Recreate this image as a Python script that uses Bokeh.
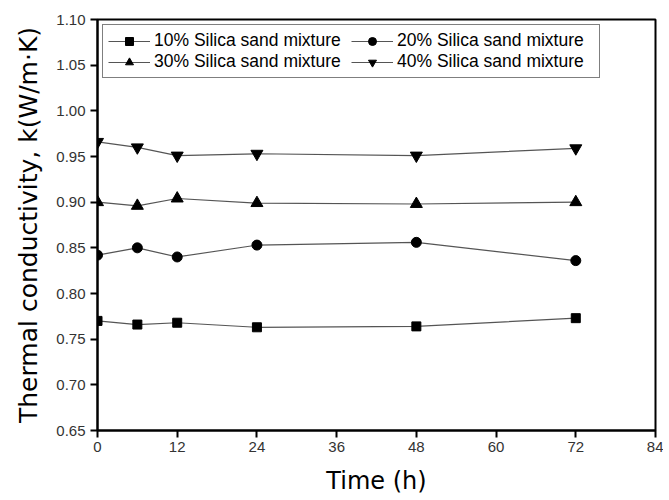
from bokeh.plotting import figure
from bokeh.models import Range1d, FixedTicker, Legend, LegendItem, NumeralTickFormatter
from bokeh.embed import file_html
from bokeh.resources import INLINE

time_h = [0, 6, 12, 24, 48, 72]
k10 = [0.770, 0.766, 0.768, 0.763, 0.764, 0.773]
k20 = [0.842, 0.850, 0.840, 0.853, 0.856, 0.836]
k30 = [0.900, 0.896, 0.904, 0.899, 0.898, 0.900]
k40 = [0.966, 0.960, 0.951, 0.953, 0.951, 0.959]
labels = ["10% Silica sand mixture", "20% Silica sand mixture",
          "30% Silica sand mixture", "40% Silica sand mixture"]
x_ticks = [0, 12, 24, 36, 48, 60, 72, 84]
y_ticks = [0.65, 0.70, 0.75, 0.80, 0.85, 0.90, 0.95, 1.00, 1.05, 1.10]

FONT = "Liberation Sans"
LABEL_FONT = "DejaVu Sans"

p = figure(width=663, height=498, output_backend="svg", toolbar_location=None,
           x_range=Range1d(0, 84), y_range=Range1d(0.65, 1.10),
           min_border_left=97, min_border_right=8, min_border_top=19, min_border_bottom=68)
p.grid.visible = False
p.outline_line_color = "black"
p.outline_line_width = 2
p.background_fill_color = "white"
p.border_fill_color = "white"

for ax in (p.xaxis[0], p.yaxis[0]):
    ax.axis_line_width = 2
    ax.axis_line_color = "black"
    ax.major_tick_line_width = 2
    ax.major_tick_in = 0
    ax.major_tick_out = 7
    ax.minor_tick_line_color = None
    ax.major_label_text_font = FONT
    ax.major_label_text_font_size = "15px"
    ax.major_label_text_color = "#333333"
    ax.axis_label_text_font = LABEL_FONT
    ax.axis_label_text_font_style = "normal"
    ax.axis_label_text_color = "black"

p.xaxis[0].ticker = FixedTicker(ticks=x_ticks)
p.yaxis[0].ticker = FixedTicker(ticks=y_ticks)
p.yaxis[0].formatter = NumeralTickFormatter(format="0.00")
p.xaxis[0].axis_label = "Time (h)"
p.yaxis[0].axis_label = "Thermal conductivity, k(W/m\u00b7K)"
p.xaxis[0].axis_label_text_font_size = "24px"
p.yaxis[0].axis_label_text_font_size = "25px"
p.xaxis[0].major_label_standoff = 4
p.xaxis[0].axis_label_standoff = 12
p.yaxis[0].major_label_standoff = 5
p.yaxis[0].axis_label_standoff = 10

series = [(k10, "square", 9), (k20, "circle", 10), (k30, "triangle", 12), (k40, "inverted_triangle", 12)]
items = []
for (vals, marker, sz), lab in zip(series, labels):
    l = p.line(time_h, vals, line_color="#555555", line_width=1.2)
    s = p.scatter(time_h, vals, marker=marker, size=sz, fill_color="black", line_color="black")
    items.append(LegendItem(label=lab, renderers=[l, s]))

legend = Legend(items=items, location="top_left", orientation="horizontal", nrows=2,
                label_text_font=FONT, label_text_font_size="17.5px", label_text_color="black",
                border_line_color="black", border_line_width=1, background_fill_alpha=1,
                glyph_width=42, glyph_height=20, label_standoff=4, spacing=0, padding=5,
                margin=5, label_height=20, label_width=197)
p.add_layout(legend, "center")

open("out.html", "w").write(file_html(p, INLINE))
